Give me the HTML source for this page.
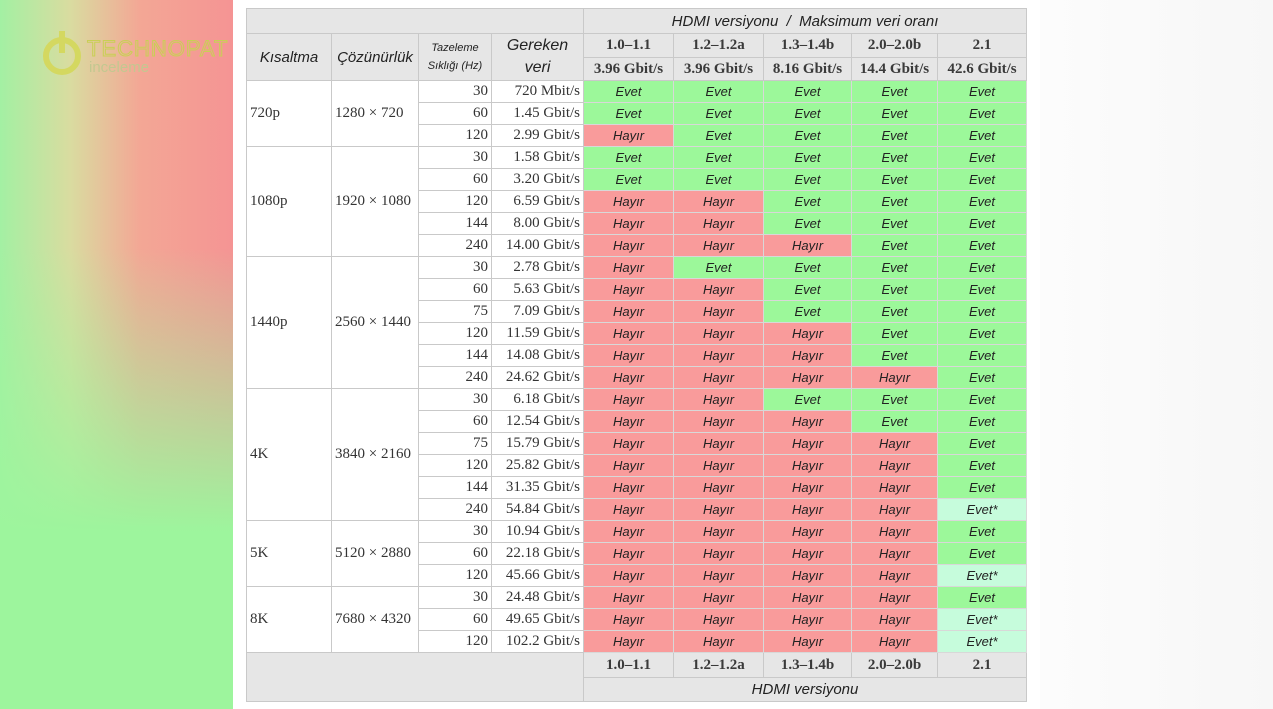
<!DOCTYPE html>
<html><head><meta charset="utf-8"><style>
html,body{margin:0;padding:0;width:1273px;height:709px;overflow:hidden;background:#fff;}
#left{position:absolute;left:0;top:0;width:233px;height:709px;background:linear-gradient(180deg,rgba(160,244,160,0) 0%,rgba(160,244,160,0) 35%,#9df59d 75%),linear-gradient(90deg,#a3f0a3 0%,#d9dca0 30%,#f3a795 60%,#f59494 100%);}
#right{position:absolute;left:1040px;top:0;width:233px;height:709px;background:linear-gradient(90deg,#fcfcfc,#f7f7f7);}
#logo{position:absolute;left:40px;top:28px;}
table{position:absolute;left:246px;top:8px;width:780px;border-collapse:collapse;table-layout:fixed;font-family:"Liberation Serif",serif;font-size:15px;color:#333;}
td{border:1px solid #c9c9c9;padding:0 3px;white-space:nowrap;overflow:hidden;}
.h{background:#e6e6e6;font-family:"Liberation Sans",sans-serif;font-style:italic;text-align:center;color:#222;}
.v{background:#e6e6e6;text-align:center;font-weight:bold;color:#3a3a3a;}
.r{text-align:right;}
.E,.H,.S{text-align:center;font-family:"Liberation Sans",sans-serif;font-style:italic;font-size:13px;color:#222;border-color:#d8d8d8;}
.E{background:#9cf89a;}
.H{background:#f99b9b;}
.S{background:#c6fcdc;}
tr.d td{height:21px;}
</style></head><body>
<div id="left"></div><div id="right"></div>
<div id="logo">
<svg width="220" height="50"><circle cx="22" cy="28" r="16" fill="none" stroke="#d4d860" stroke-width="6"/><rect x="19" y="3" width="6" height="22" fill="#d4d860"/>
<text x="47" y="28" font-family="Liberation Sans,sans-serif" font-size="22" fill="none" stroke="#c9cf55" stroke-width="1" letter-spacing="1">TECHNOPAT</text>
<text x="49" y="44" font-family="Liberation Sans,sans-serif" font-size="15" fill="#c2c890">inceleme</text></svg>
</div>
<table>
<colgroup><col style="width:85px"><col style="width:87px"><col style="width:73px"><col style="width:92px"><col style="width:90px"><col style="width:90px"><col style="width:88px"><col style="width:86px"><col style="width:89px"></colgroup>
<tr style="height:25px"><td class="h" colspan="4"></td><td class="h" colspan="5">HDMI versiyonu &nbsp;/&nbsp; Maksimum veri oranı</td></tr>
<tr style="height:24px"><td class="h" rowspan="2" style="font-size:15px">Kısaltma</td><td class="h" rowspan="2" style="font-size:15px">Çözünürlük</td><td class="h" rowspan="2" style="font-size:11px;line-height:18px">Tazeleme<br>Sıklığı (Hz)</td><td class="h" rowspan="2" style="font-size:16px;line-height:22px">Gereken<br>veri</td><td class="v">1.0–1.1</td><td class="v">1.2–1.2a</td><td class="v">1.3–1.4b</td><td class="v">2.0–2.0b</td><td class="v">2.1</td></tr>
<tr style="height:23px"><td class="v" style="padding:0">3.96 Gbit/s</td><td class="v" style="padding:0">3.96 Gbit/s</td><td class="v" style="padding:0">8.16 Gbit/s</td><td class="v" style="padding:0">14.4 Gbit/s</td><td class="v" style="padding:0">42.6 Gbit/s</td></tr>
<tr class="d"><td rowspan="3">720p</td><td rowspan="3">1280 × 720</td><td class="r">30</td><td class="r">720 Mbit/s</td><td class="E">Evet</td><td class="E">Evet</td><td class="E">Evet</td><td class="E">Evet</td><td class="E">Evet</td></tr>
<tr class="d"><td class="r">60</td><td class="r">1.45 Gbit/s</td><td class="E">Evet</td><td class="E">Evet</td><td class="E">Evet</td><td class="E">Evet</td><td class="E">Evet</td></tr>
<tr class="d"><td class="r">120</td><td class="r">2.99 Gbit/s</td><td class="H">Hayır</td><td class="E">Evet</td><td class="E">Evet</td><td class="E">Evet</td><td class="E">Evet</td></tr>
<tr class="d"><td rowspan="5">1080p</td><td rowspan="5">1920 × 1080</td><td class="r">30</td><td class="r">1.58 Gbit/s</td><td class="E">Evet</td><td class="E">Evet</td><td class="E">Evet</td><td class="E">Evet</td><td class="E">Evet</td></tr>
<tr class="d"><td class="r">60</td><td class="r">3.20 Gbit/s</td><td class="E">Evet</td><td class="E">Evet</td><td class="E">Evet</td><td class="E">Evet</td><td class="E">Evet</td></tr>
<tr class="d"><td class="r">120</td><td class="r">6.59 Gbit/s</td><td class="H">Hayır</td><td class="H">Hayır</td><td class="E">Evet</td><td class="E">Evet</td><td class="E">Evet</td></tr>
<tr class="d"><td class="r">144</td><td class="r">8.00 Gbit/s</td><td class="H">Hayır</td><td class="H">Hayır</td><td class="E">Evet</td><td class="E">Evet</td><td class="E">Evet</td></tr>
<tr class="d"><td class="r">240</td><td class="r">14.00 Gbit/s</td><td class="H">Hayır</td><td class="H">Hayır</td><td class="H">Hayır</td><td class="E">Evet</td><td class="E">Evet</td></tr>
<tr class="d"><td rowspan="6">1440p</td><td rowspan="6">2560 × 1440</td><td class="r">30</td><td class="r">2.78 Gbit/s</td><td class="H">Hayır</td><td class="E">Evet</td><td class="E">Evet</td><td class="E">Evet</td><td class="E">Evet</td></tr>
<tr class="d"><td class="r">60</td><td class="r">5.63 Gbit/s</td><td class="H">Hayır</td><td class="H">Hayır</td><td class="E">Evet</td><td class="E">Evet</td><td class="E">Evet</td></tr>
<tr class="d"><td class="r">75</td><td class="r">7.09 Gbit/s</td><td class="H">Hayır</td><td class="H">Hayır</td><td class="E">Evet</td><td class="E">Evet</td><td class="E">Evet</td></tr>
<tr class="d"><td class="r">120</td><td class="r">11.59 Gbit/s</td><td class="H">Hayır</td><td class="H">Hayır</td><td class="H">Hayır</td><td class="E">Evet</td><td class="E">Evet</td></tr>
<tr class="d"><td class="r">144</td><td class="r">14.08 Gbit/s</td><td class="H">Hayır</td><td class="H">Hayır</td><td class="H">Hayır</td><td class="E">Evet</td><td class="E">Evet</td></tr>
<tr class="d"><td class="r">240</td><td class="r">24.62 Gbit/s</td><td class="H">Hayır</td><td class="H">Hayır</td><td class="H">Hayır</td><td class="H">Hayır</td><td class="E">Evet</td></tr>
<tr class="d"><td rowspan="6">4K</td><td rowspan="6">3840 × 2160</td><td class="r">30</td><td class="r">6.18 Gbit/s</td><td class="H">Hayır</td><td class="H">Hayır</td><td class="E">Evet</td><td class="E">Evet</td><td class="E">Evet</td></tr>
<tr class="d"><td class="r">60</td><td class="r">12.54 Gbit/s</td><td class="H">Hayır</td><td class="H">Hayır</td><td class="H">Hayır</td><td class="E">Evet</td><td class="E">Evet</td></tr>
<tr class="d"><td class="r">75</td><td class="r">15.79 Gbit/s</td><td class="H">Hayır</td><td class="H">Hayır</td><td class="H">Hayır</td><td class="H">Hayır</td><td class="E">Evet</td></tr>
<tr class="d"><td class="r">120</td><td class="r">25.82 Gbit/s</td><td class="H">Hayır</td><td class="H">Hayır</td><td class="H">Hayır</td><td class="H">Hayır</td><td class="E">Evet</td></tr>
<tr class="d"><td class="r">144</td><td class="r">31.35 Gbit/s</td><td class="H">Hayır</td><td class="H">Hayır</td><td class="H">Hayır</td><td class="H">Hayır</td><td class="E">Evet</td></tr>
<tr class="d"><td class="r">240</td><td class="r">54.84 Gbit/s</td><td class="H">Hayır</td><td class="H">Hayır</td><td class="H">Hayır</td><td class="H">Hayır</td><td class="S">Evet*</td></tr>
<tr class="d"><td rowspan="3">5K</td><td rowspan="3">5120 × 2880</td><td class="r">30</td><td class="r">10.94 Gbit/s</td><td class="H">Hayır</td><td class="H">Hayır</td><td class="H">Hayır</td><td class="H">Hayır</td><td class="E">Evet</td></tr>
<tr class="d"><td class="r">60</td><td class="r">22.18 Gbit/s</td><td class="H">Hayır</td><td class="H">Hayır</td><td class="H">Hayır</td><td class="H">Hayır</td><td class="E">Evet</td></tr>
<tr class="d"><td class="r">120</td><td class="r">45.66 Gbit/s</td><td class="H">Hayır</td><td class="H">Hayır</td><td class="H">Hayır</td><td class="H">Hayır</td><td class="S">Evet*</td></tr>
<tr class="d"><td rowspan="3">8K</td><td rowspan="3">7680 × 4320</td><td class="r">30</td><td class="r">24.48 Gbit/s</td><td class="H">Hayır</td><td class="H">Hayır</td><td class="H">Hayır</td><td class="H">Hayır</td><td class="E">Evet</td></tr>
<tr class="d"><td class="r">60</td><td class="r">49.65 Gbit/s</td><td class="H">Hayır</td><td class="H">Hayır</td><td class="H">Hayır</td><td class="H">Hayır</td><td class="S">Evet*</td></tr>
<tr class="d"><td class="r">120</td><td class="r">102.2 Gbit/s</td><td class="H">Hayır</td><td class="H">Hayır</td><td class="H">Hayır</td><td class="H">Hayır</td><td class="S">Evet*</td></tr>
<tr style="height:25px"><td class="h" colspan="4" rowspan="2"></td><td class="v">1.0–1.1</td><td class="v">1.2–1.2a</td><td class="v">1.3–1.4b</td><td class="v">2.0–2.0b</td><td class="v">2.1</td></tr>
<tr style="height:24px"><td class="h" colspan="5">HDMI versiyonu</td></tr>
</table>
</body></html>
